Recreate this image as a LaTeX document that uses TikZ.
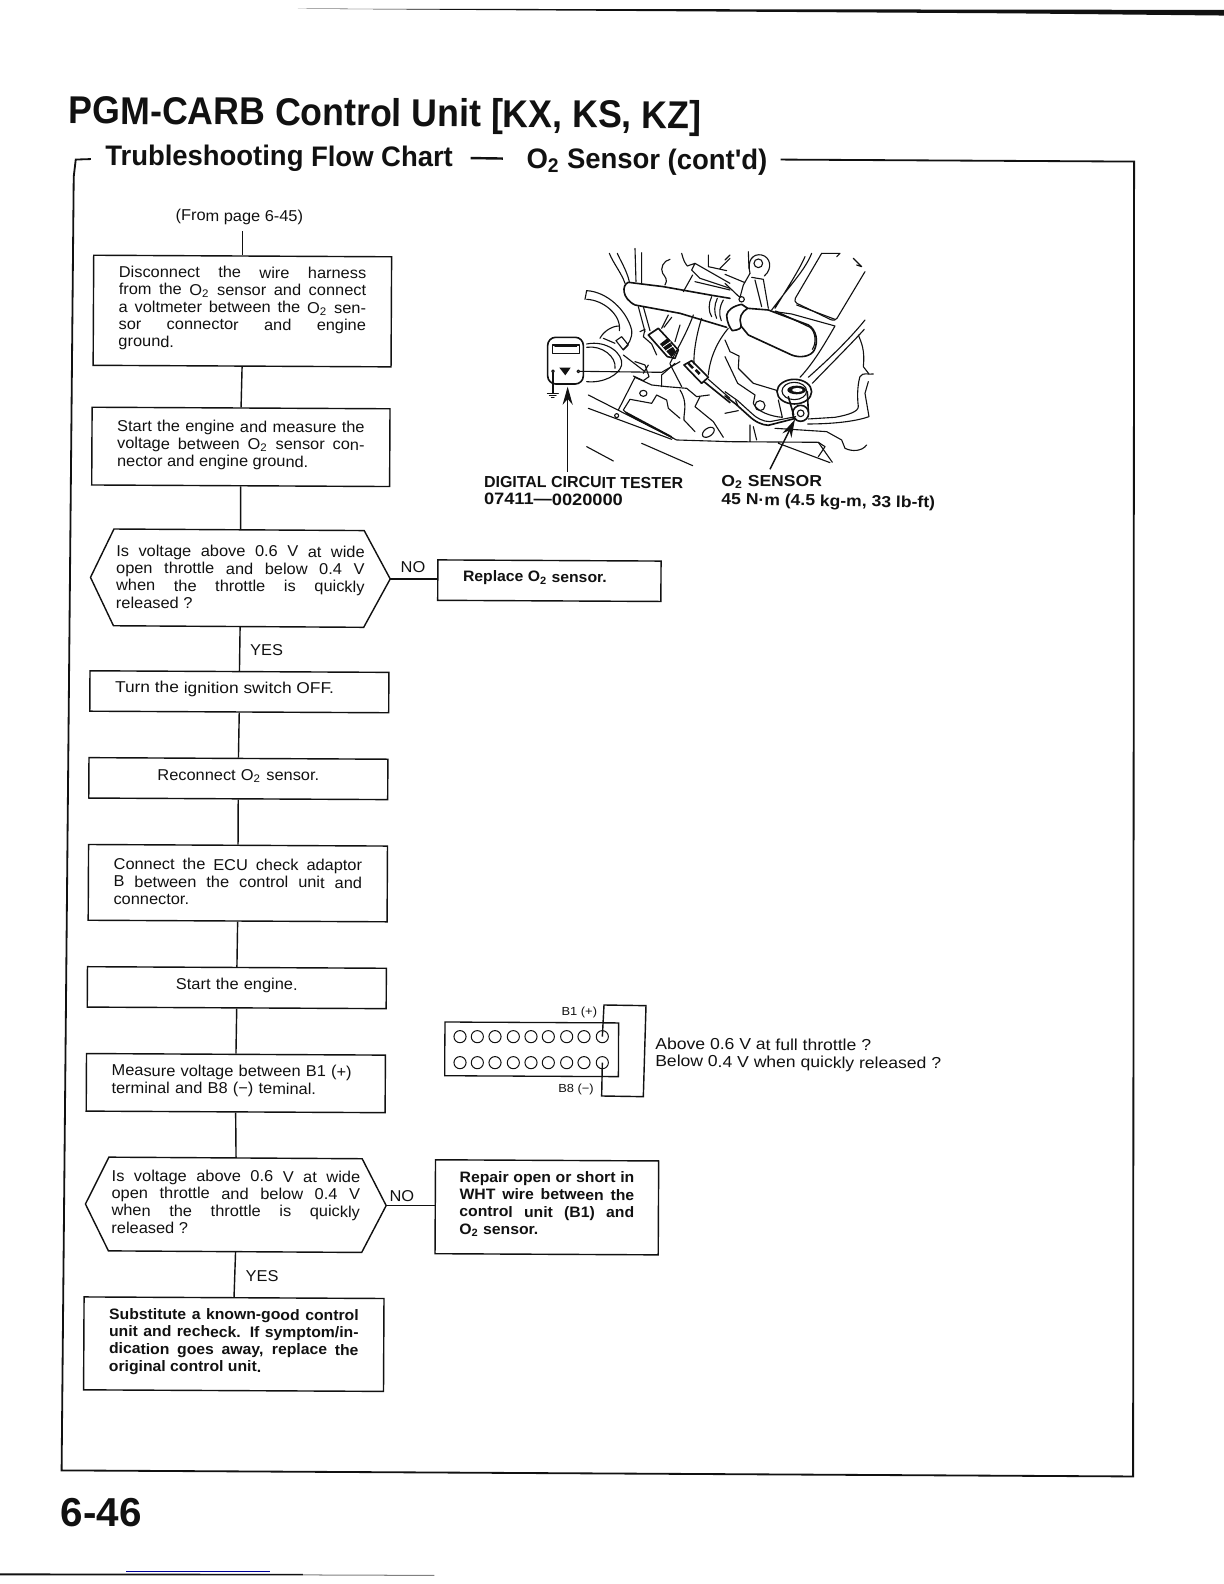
\documentclass[tikz,border=0pt]{standalone}
\usepackage{fontspec}
\setmainfont{Liberation Sans}
\newfontfamily\bodyfam[FakeStretch=1.04]{Liberation Sans}
\newfontfamily\widefam[FakeStretch=1.1]{Liberation Sans}
\newfontfamily\narrowfam[FakeStretch=0.92]{Liberation Sans}
\newfontfamily\subfam[FakeStretch=0.97]{Liberation Sans}
\usetikzlibrary{arrows.meta,calc}
\definecolor{ink}{HTML}{111111}
\newcommand\Otwo{O\textsubscript{2}}
\newcommand\bodyf{\bodyfam\fontsize{7.8}{8.6}\selectfont}
\newcommand\boldf{\bodyfam\fontsize{7.5}{8.6}\selectfont\bfseries}
\tikzset{
  flowbox/.style={draw=ink,line width=.7pt,rotate=-0.3,inner xsep=12.5pt,inner ysep=0pt,font=\bodyf,text=ink,align=justify},
  boldbox/.style={flowbox,font=\boldf},
  hexbox/.style={rotate=-0.3,inner xsep=12.5pt,inner ysep=0pt,font=\bodyf,text=ink,align=justify},
  wire/.style={draw=ink,line width=.7pt},
  tag/.style={font=\bodyf,text=ink,inner sep=0pt,rotate=-0.3},
  capt/.style={font=\widefam\fontsize{7.9}{8.6}\selectfont\bfseries,text=ink,inner sep=0pt,anchor=west,rotate=-0.4},
  art/.style={draw=ink,line width=.55pt,line cap=round,line join=round},
  artt/.style={draw=ink,line width=.8pt,line cap=round,line join=round},
}
\begin{document}
\begin{tikzpicture}[x=0.5pt,y=-0.5pt]
\useasboundingbox (0,0) rectangle (1212,1568.5);
% page rules
\fill[ink] (295,8.6) -- (1212,9.8) -- (1212,15.4) -- (1000,13.2) -- (455,9.8) -- cycle;
\fill[ink] (0,1558) -- (300,1558.5) -- (300,1560) -- (0,1560) -- cycle;
\draw[gray,line width=.5pt] (300,1559.5) -- (430,1560);
\draw[blue!60!black,line width=.5pt] (125,1556.5) -- (267,1556.5);
% titles
\node[inner sep=0pt,anchor=west,rotate=-0.45,text=ink,font=\narrowfam\fontsize{19.2}{22}\selectfont\bfseries] (title) at (68,112.5) {PGM-CARB Control Unit [KX, KS, KZ]};
\node[inner sep=0pt,anchor=west,rotate=-0.2,text=ink,font=\subfam\fontsize{14}{16}\selectfont\bfseries] (sub1) at (104,156.5) {Trubleshooting Flow Chart};
\node[inner sep=0pt,anchor=west,rotate=-0.3,text=ink,font=\subfam\fontsize{14}{16}\selectfont\bfseries] (sub2) at (521,159.5) {\Otwo{} Sensor (cont'd)};
\node[inner sep=0pt,anchor=west,text=ink,font=\fontsize{20}{22}\selectfont\bfseries] (pagenum) at (60,1498) {6-46};
% frame
\draw[ink,line width=.9pt] (90,157.5) -- (75,158) -- (73,175) -- (61,1456) -- (1122,1462) -- (1123,160) -- (773,158);
\draw[ink,line width=1.2pt] (466,156.5) -- (498,157);
% flow
\node[tag] (from) at (237,215) {(From page 6-45)};
\node[flowbox,minimum width=147.5pt,minimum height=54.5pt,text width=122.5pt] (b1) at (240,308) {Disconnect the wire harness\linebreak from the \Otwo{} sensor and connect\linebreak a voltmeter between the \Otwo{} sen-\linebreak sor connector and engine\linebreak ground.\vspace{2.4pt}};
\node[flowbox,minimum width=147.5pt,minimum height=38.5pt,text width=122.5pt] (b2) at (238.5,442.5) {Start the engine and measure the\linebreak voltage between \Otwo{} sensor con-\linebreak nector and engine ground.\vspace{1.5pt}};
\node[hexbox,minimum width=148pt,minimum height=47.5pt,text width=123pt] (h1) at (238,572.5) {\leftskip=-1pt\rightskip=1pt Is voltage above 0.6 V at wide\linebreak open throttle and below 0.4 V\linebreak when the throttle is quickly\linebreak released ?\vspace{1pt}};
\draw[wire] (h1.west) -- ([xshift=11.5pt]h1.north west) -- ([xshift=-13pt]h1.north east) -- (h1.east) -- ([xshift=-13pt]h1.south east) -- ([xshift=11.5pt]h1.south west) -- cycle;
\node[boldbox,minimum width=110.5pt,minimum height=20pt,text width=85.5pt] (rep) at (544,575) {Replace \Otwo{} sensor.\vspace{2.5pt}};
\node[flowbox,font=\widefam\fontsize{7.8}{8.6}\selectfont,minimum width=148pt,minimum height=20pt,text width=123pt] (b3) at (237,685) {Turn the ignition switch OFF.\vspace{2.5pt}};
\node[flowbox,minimum width=148pt,minimum height=20pt,text width=123pt,align=center] (b4) at (236,771) {Reconnect \Otwo{} sensor.\vspace{2.5pt}};
\node[flowbox,minimum width=148pt,minimum height=37.5pt,text width=123pt] (b5) at (235.5,874.5) {Connect the ECU check adaptor\linebreak B between the control unit and\linebreak connector.\vspace{1.2pt}};
\node[flowbox,minimum width=148pt,minimum height=20pt,text width=123pt,align=center] (b6) at (234.5,978) {Start the engine.\vspace{2pt}};
\node[flowbox,minimum width=148pt,minimum height=28.5pt,text width=123pt,align=left] (b7) at (233.5,1072.5) {Measure voltage between B1 (+)\\terminal and B8 (−) teminal.\vspace{2pt}};
\node[hexbox,minimum width=148.5pt,minimum height=46pt,text width=123pt] (h2) at (233.5,1193) {Is voltage above 0.6 V at wide\linebreak open throttle and below 0.4 V\linebreak when the throttle is quickly\linebreak released ?\vspace{2.6pt}};
\draw[wire] (h2.west) -- ([xshift=11.5pt]h2.north west) -- ([xshift=-12pt]h2.north east) -- (h2.east) -- ([xshift=-12pt]h2.south east) -- ([xshift=11.5pt]h2.south west) -- cycle;
\node[boldbox,minimum width=110.5pt,minimum height=46.5pt,text width=86.5pt,inner xsep=12pt] (rep2) at (541.5,1195.5) {Repair open or short in\linebreak WHT wire between the\linebreak control unit (B1) and\linebreak \Otwo{} sensor.\vspace{3pt}};
\node[boldbox,minimum width=148.5pt,minimum height=46pt,text width=123.5pt] (b8) at (231.5,1331) {Substitute a known-good control\linebreak unit and recheck. If symptom/in-\linebreak dication goes away, replace the\linebreak original control unit.\vspace{2.2pt}};
\foreach \a/\b in {b1/b2,b2/h1,h1/b3,b3/b4,b4/b5,b5/b6,b6/b7,b7/h2,h2/b8}{\draw[wire] (\a.south) -- (\b.north);}
\draw[wire] ([yshift=-3.2pt]from.south -| b1.north) -- (b1.north);
\draw[wire] (h1.east) -- (h1.east -| rep.west);
\draw[wire] (h2.east) -- (h2.east -| rep2.west);
\node[tag] (no1) at (409,562) {NO};
\node[tag] (yes1) at (264,643.5) {YES};
\node[tag] (no2) at (398,1184) {NO};
\node[tag] (yes2) at (259.5,1264) {YES};
% captions
\node[capt,font=\fontsize{7.9}{8.6}\selectfont\bfseries] (dct) at (479,477) {DIGITAL CIRCUIT TESTER};
\node[capt,font=\widefam\fontsize{8.2}{8.6}\selectfont\bfseries] (dctn) at (479,494) {07411—0020000};
\node[capt] (sens) at (714,477) {O\textsubscript{2} SENSOR};
\node[capt,rotate=-0.5] (sensn) at (714,495.5) {45 N·m (4.5 kg-m, 33 lb-ft)};
% tester (crop units)
\begin{scope}[shift={(232.7pt,-113.87pt)},x=0.16502pt,y=-0.16502pt]
 \draw[artt,rounded corners=4pt] (233,322) rectangle (340,462);
 \draw[artt] (248,345) rectangle (328,370);
 \draw[art] (255,350) -- (320,350);
 \fill[ink] (268,413) -- (302,413) -- (286,436) -- cycle;
 \draw[art] (249,424) circle (4) (325,424) circle (4);
 \draw[art] (249,428) -- (249,490) (232,491) -- (265,491) (238,497) -- (258,497) (244,503) -- (252,503);
 \draw[art] (330,424) -- (575,427) -- (630,395);
 \coordinate (testerpt) at (293,470);
 \coordinate (testerfoot) at (293,725);
\end{scope}
% engine, left half
\begin{scope}[shift={(287.16pt,-118.82pt)},x=0.16502pt,y=-0.16502pt]
 \draw[art] (88,40) .. controls (100,70) and (125,100) .. (135,130) (112,40) .. controls (120,60) and (140,90) .. (148,125);
 \draw[art] (165,25) -- (168,125) (185,38) -- (185,128);
 % hose
 \draw[artt] (450,175) -- (390,165) -- (250,140) -- (145,127) .. controls (125,135) and (125,175) .. (165,195) -- (300,220) -- (440,262);
 \draw[art] (395,170) .. controls (385,190) and (385,215) .. (395,230) (412,175) .. controls (402,195) and (402,220) .. (410,235) (430,180) .. controls (418,200) and (416,225) .. (424,242);
 \draw[art] (270,58) .. controls (250,62) and (240,85) .. (248,100) .. controls (255,110) and (265,120) .. (255,135);
 \draw[art] (305,40) .. controls (310,60) and (315,70) .. (322,78) -- (345,70) -- (450,130) (345,70) -- (335,90) -- (360,115) -- (450,145) (338,105) -- (310,155) (385,45) -- (385,80) -- (440,92) (450,55) -- (420,85) (345,125) -- (450,150);
 % left arcs
 \draw[art] (20,152) .. controls (80,155) and (140,210) .. (155,270) .. controls (158,295) and (145,315) .. (130,328);
 \draw[art] (20,178) .. controls (70,180) and (125,225) .. (118,272) (20,152) -- (15,178);
 \draw[art] (20,312) .. controls (80,300) and (130,340) .. (125,375) .. controls (118,405) and (70,430) .. (20,425);
 \draw[art] (20,322) .. controls (65,315) and (110,350) .. (105,385);
 \draw[art] (60,295) .. controls (70,275) and (95,258) .. (118,258);
 \draw[art] (70,295) -- (105,310) (108,302) -- (125,290) -- (145,315) -- (130,330) -- cycle;
 \draw[art] (175,200) -- (195,275) (190,200) -- (210,272) (180,275) -- (195,268) -- (190,290) -- (215,312) -- (230,345);
 % plug
 \draw[artt] (205,285) -- (235,265) -- (295,330) -- (285,355) -- (262,350) -- cycle;
 \fill[ink] (240,312) -- (262,295) -- (288,335) -- (275,352) -- cycle;
 \draw[white,line width=.4pt] (250,320) -- (272,305) (258,332) -- (280,318);
 \draw[art] (245,265) -- (265,225) (252,262) -- (275,232);
 % duct
 \draw[art] (340,225) .. controls (320,280) and (285,340) .. (270,370) (300,255) -- (285,305) (365,235) .. controls (350,280) and (340,340) .. (342,372) (445,265) .. controls (415,300) and (390,350) .. (385,405);
 \draw[art] (285,370) -- (245,405) -- (245,440) (270,372) -- (305,440);
 % small blob left of wire
 \draw[art] (130,345) -- (195,395) (165,365) -- (195,375) -- (207,410) -- (190,422) -- (160,408) (205,375) -- (190,400);
 % harness plug
 \draw[artt] (312,375) -- (335,362) -- (385,412) -- (365,430) -- cycle;
 \fill[ink] (322,372) -- (328,368) -- (342,382) -- (336,387) -- cycle;
 \fill[ink] (344,392) -- (350,387) -- (362,399) -- (356,405) -- cycle;
 \draw[artt] (372,425) -- (450,488);
 \draw[art] (385,418) -- (450,475);
 % lower block
 \draw[art] (165,412) -- (215,435) -- (260,440) (165,412) -- (115,510);
 \draw[art] (150,478) -- (130,510) -- (145,525) -- (280,595) (135,515) -- (275,590);
 \draw[art] (150,478) -- (215,490) -- (230,465) -- (260,480) -- (265,505) -- (300,535);
 \draw[art] (190,460) ellipse (11 and 9);
 \draw[art] (260,440) -- (320,445) -- (350,470) -- (388,465) (300,450) .. controls (325,490) and (310,520) .. (312,540) -- (345,575);
 \draw[art] (345,500) -- (400,545) -- (430,592) (360,470) -- (345,500);
 \draw[art,rotate around={35:(385,577)}] (385,577) ellipse (20 and 12);
 % base plate
 \draw[art] (25,465) -- (290,600) -- (450,605);
 \draw[art] (25,505) -- (275,598);
 \draw[art] (110,527) circle (6);
 \draw[art] (20,620) -- (100,663) (185,610) -- (338,677);
\end{scope}
% engine, right half
\begin{scope}[shift={(358.95pt,-118.82pt)},x=0.16502pt,y=-0.16502pt]
 \draw[art] (70,35) -- (72,85);
 \draw[art] (75,100) .. controls (65,60) and (85,40) .. (110,45) .. controls (135,50) and (145,85) .. (118,108);
 \draw[art] (100,70) circle (13);
 \draw[art] (75,100) -- (55,135) -- (45,172) (80,112) -- (115,118) -- (130,205) (90,120) -- (110,200) (0,103) -- (60,128) (0,130) -- (42,170) (0,60) -- (15,45);
 \draw[art] (50,178) circle (8);
 % clamp
 \draw[artt] (50,193) .. controls (25,198) and (8,210) .. (5,225) .. controls (5,245) and (15,265) .. (22,272) .. controls (40,270) and (52,265) .. (48,255) .. controls (40,235) and (50,215) .. (68,205) -- (50,193);
 % boot
 \draw[artt] (68,205) -- (130,210) -- (250,255) .. controls (275,270) and (280,305) .. (268,330) .. controls (258,350) and (225,355) .. (200,345) -- (70,285) -- (48,258);
 \draw[art] (152,213) -- (255,262) .. controls (272,275) and (275,310) .. (262,328);
 % panel
 \draw[art,rounded corners=2pt] (290,40) -- (205,185) -- (330,245) -- (420,95);
 \draw[art] (290,40) -- (345,40) -- (335,50) (385,55) -- (410,80) -- (395,75) (215,195) -- (330,238);
 \draw[art] (260,40) .. controls (240,90) and (200,130) .. (140,210) (240,50) .. controls (225,85) and (190,140) .. (150,205);
 \draw[art] (150,215) -- (200,222) -- (330,258) .. controls (300,310) and (265,370) .. (225,412);
 \draw[art] (420,240) .. controls (380,290) and (320,350) .. (250,412) (418,268) .. controls (380,310) and (320,370) .. (262,430);
 % sensor
 \draw[artt] (208,455) ellipse (52 and 37);
 \draw[art] (208,453) ellipse (37 and 26);
 \draw[artt] (190,470) -- (206,525) (247,455) -- (250,515);
 \fill[ink] (215,450) ellipse (28 and 13);
 \fill[white] (217,450) ellipse (16 and 6);
 \draw[artt] (227,520) circle (24);
 \draw[art] (227,520) circle (10);
 % bracket
 \draw[art] (0,300) -- (15,335) -- (42,348) -- (40,385) -- (85,430) -- (158,452) (0,350) -- (38,430) -- (90,465) -- (85,490) .. controls (95,515) and (140,530) .. (172,532) (160,480) -- (172,532);
 \draw[art] (105,497) circle (15);
 % wire
 \draw[artt] (0,468) -- (32,492) -- (72,528) .. controls (90,545) and (110,555) .. (130,556) -- (212,535);
 \draw[art] (0,455) -- (38,482) -- (80,520) .. controls (95,535) and (115,545) .. (135,545) -- (212,530);
 \draw[art] (32,482) -- (38,495) (0,520) -- (40,512);
 % right side
 \draw[art] (250,537) -- (330,532) .. controls (370,525) and (400,515) .. (400,500) .. controls (395,460) and (400,425) .. (405,410) .. controls (415,395) and (430,405) .. (445,402);
 \draw[art] (248,552) .. controls (320,552) and (390,545) .. (432,530) -- (420,460) (400,285) .. controls (410,310) and (420,330) .. (415,380) -- (432,402) (430,425) -- (420,460);
 % lower
 \draw[art] (75,555) -- (75,605) (0,605) -- (280,607) -- (322,667) (160,610) -- (315,668) (85,560) -- (95,600);
 \draw[art] (150,565) -- (305,575) -- (350,600) -- (360,625) .. controls (380,635) and (410,635) .. (425,615) (280,607) -- (300,620) -- (280,650);
 \coordinate (sensorpt) at (210,538);
 \coordinate (sensorfoot) at (135,688);
\end{scope}
\draw[wire,-{Stealth[length=9pt,width=5pt]}] (testerfoot -| testerpt) -- (testerpt);
\draw[wire,-{Stealth[length=9pt,width=5pt]}] (sensorfoot) -- (sensorpt);
% terminal connector
\begin{scope}[shift={(212.9pt,-490.15pt)},x=0.16502pt,y=-0.16502pt]
 \node[draw=ink,line width=.65pt,inner sep=0pt,minimum width=86pt,minimum height=26.6pt,rotate=-0.3] (conn) at (305,178) {};
 \foreach \i/\x in {1/90,2/142,3/195,4/250,5/303,6/355,7/410,8/462,9/517}{
   \node[circle,draw=ink,line width=.5pt,inner sep=0pt,minimum size=6pt] (pa\i) at (\x,140) {};
   \node[circle,draw=ink,line width=.5pt,inner sep=0pt,minimum size=6pt] (pb\i) at (\x,218) {};
 }
 \draw[wire] (pa9.center) -- (522,45) -- (648,47) -- (640,320) -- (515,318) -- (pb9.center);
 \node[inner sep=0pt,text=ink,font=\widefam\fontsize{5.8}{6}\selectfont] (lb1) at (448,66) {B1 (+)};
 \node[inner sep=0pt,text=ink,font=\widefam\fontsize{5.8}{6}\selectfont] (lb8) at (438,297) {B8 (−)};
 \node[font=\widefam\fontsize{7.9}{8.6}\selectfont,text=ink,inner sep=0pt,anchor=west,rotate=-0.5,align=left] (ab) at (675,191) {Above 0.6 V at full throttle ?\\Below 0.4 V when quickly released ?};
\end{scope}
\end{tikzpicture}
\end{document}
